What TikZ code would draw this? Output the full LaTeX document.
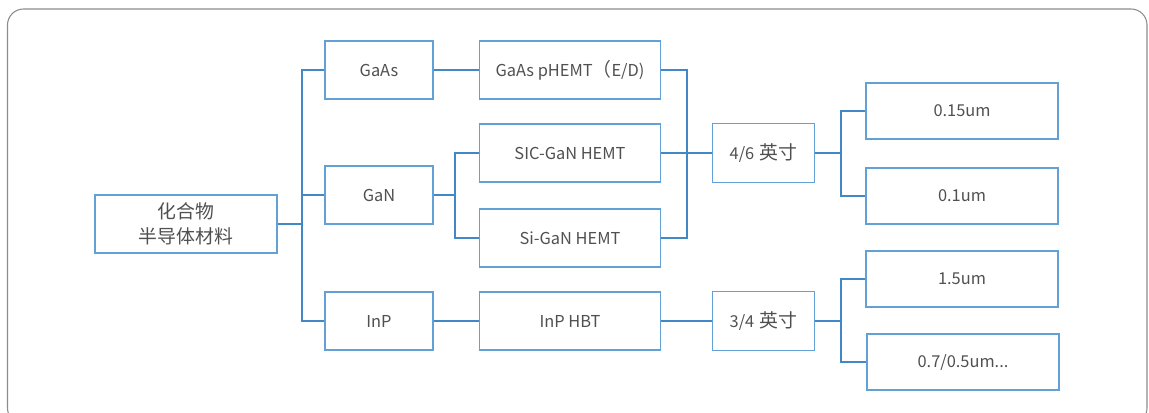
\documentclass[tikz,border=0pt]{standalone}
\usepackage{fontspec}
\setmainfont{Noto Sans CJK SC}
\newfontfamily\cjkfont{Noto Sans CJK SC}[Scale=1.15]
\usetikzlibrary{positioning}

\definecolor{lineblue}{RGB}{66,135,198}
\definecolor{boxblue}{RGB}{98,160,214}
\definecolor{txtgray}{RGB}{80,80,80}
\definecolor{framegray}{RGB}{140,140,140}

\begin{document}
\begin{tikzpicture}[
    x=0.75pt, y=-0.75pt,
    box/.style={rectangle, draw=boxblue, line width=0.9pt, inner sep=0pt, align=center, text=txtgray, font=\fontsize{12.3}{18.75}\selectfont},
    rootbox/.style={box, minimum width=136.5pt, minimum height=43.5pt},
    matbox/.style={box, minimum width=81pt, minimum height=43.5pt},
    devbox/.style={box, minimum width=136pt, minimum height=43.5pt},
    sizebox/.style={box, minimum width=77pt, minimum height=44pt},
    nodebox/.style={box, minimum width=144pt, minimum height=42pt},
    link/.style={draw=lineblue, line width=0.9pt}
]
\useasboundingbox (0,0) rectangle (1149,413);
\draw[framegray, line width=0.8pt, rounded corners=12pt] (7.5,9) rectangle (1147,424);

% material column
\node[rootbox] (root) at (186,224) {\cjkfont 化合物\\\cjkfont 半导体材料};
\node[matbox] (gaas) at (379,70) {GaAs};
\node[matbox] (gan) at (379,195) {GaN};
\node[matbox] (inp) at (379,321) {InP};

% device column
\node[devbox] (phemt) at (570,70) {GaAs pHEMT{\cjkfont （}E/D)};
\node[devbox] (sicgan) at (570,153) {SIC-GaN HEMT};
\node[devbox] (sigan) at (570,238) {Si-GaN HEMT};
\node[devbox] (hbt) at (570,321) {InP HBT};

% wafer size
\node[sizebox] (w46) at (763.5,153) {4/6\hspace{4pt}{\cjkfont 英寸}};
\node[sizebox] (w34) at (763.5,321) {3/4\hspace{4pt}{\cjkfont 英寸}};

% process node
\node[nodebox] (n015) at (962,111) {0.15um};
\node[nodebox] (n01) at (962,196) {0.1um};
\node[nodebox] (n15) at (962,279) {1.5um};
\node[nodebox] (n07) at (963,362) {0.7/0.5um...};

\coordinate (trunk) at (302,224);
\coordinate (ganfork) at (455,195);
\coordinate (merge) at (687,153);
\coordinate (fork46) at (841,153);
\coordinate (fork34) at (841,321);

\draw[link] (root.east) -- (trunk);
\draw[link] (trunk) |- (gaas.west);
\draw[link] (trunk) |- (gan.west);
\draw[link] (trunk) |- (inp.west);

\draw[link] (gaas.east) -- (phemt.west);
\draw[link] (gan.east) -- (ganfork);
\draw[link] (ganfork) |- (sicgan.west);
\draw[link] (ganfork) |- (sigan.west);
\draw[link] (inp.east) -- (hbt.west);

\draw[link] (phemt.east) -| (merge);
\draw[link] (sigan.east) -| (merge);
\draw[link] (sicgan.east) -- (w46.west);
\draw[link] (hbt.east) -- (w34.west);

\draw[link] (w46.east) -- (fork46);
\draw[link] (fork46) |- (n015.west);
\draw[link] (fork46) |- (n01.west);
\draw[link] (w34.east) -- (fork34);
\draw[link] (fork34) |- (n15.west);
\draw[link] (fork34) |- (n07.west);
\end{tikzpicture}
\end{document}
